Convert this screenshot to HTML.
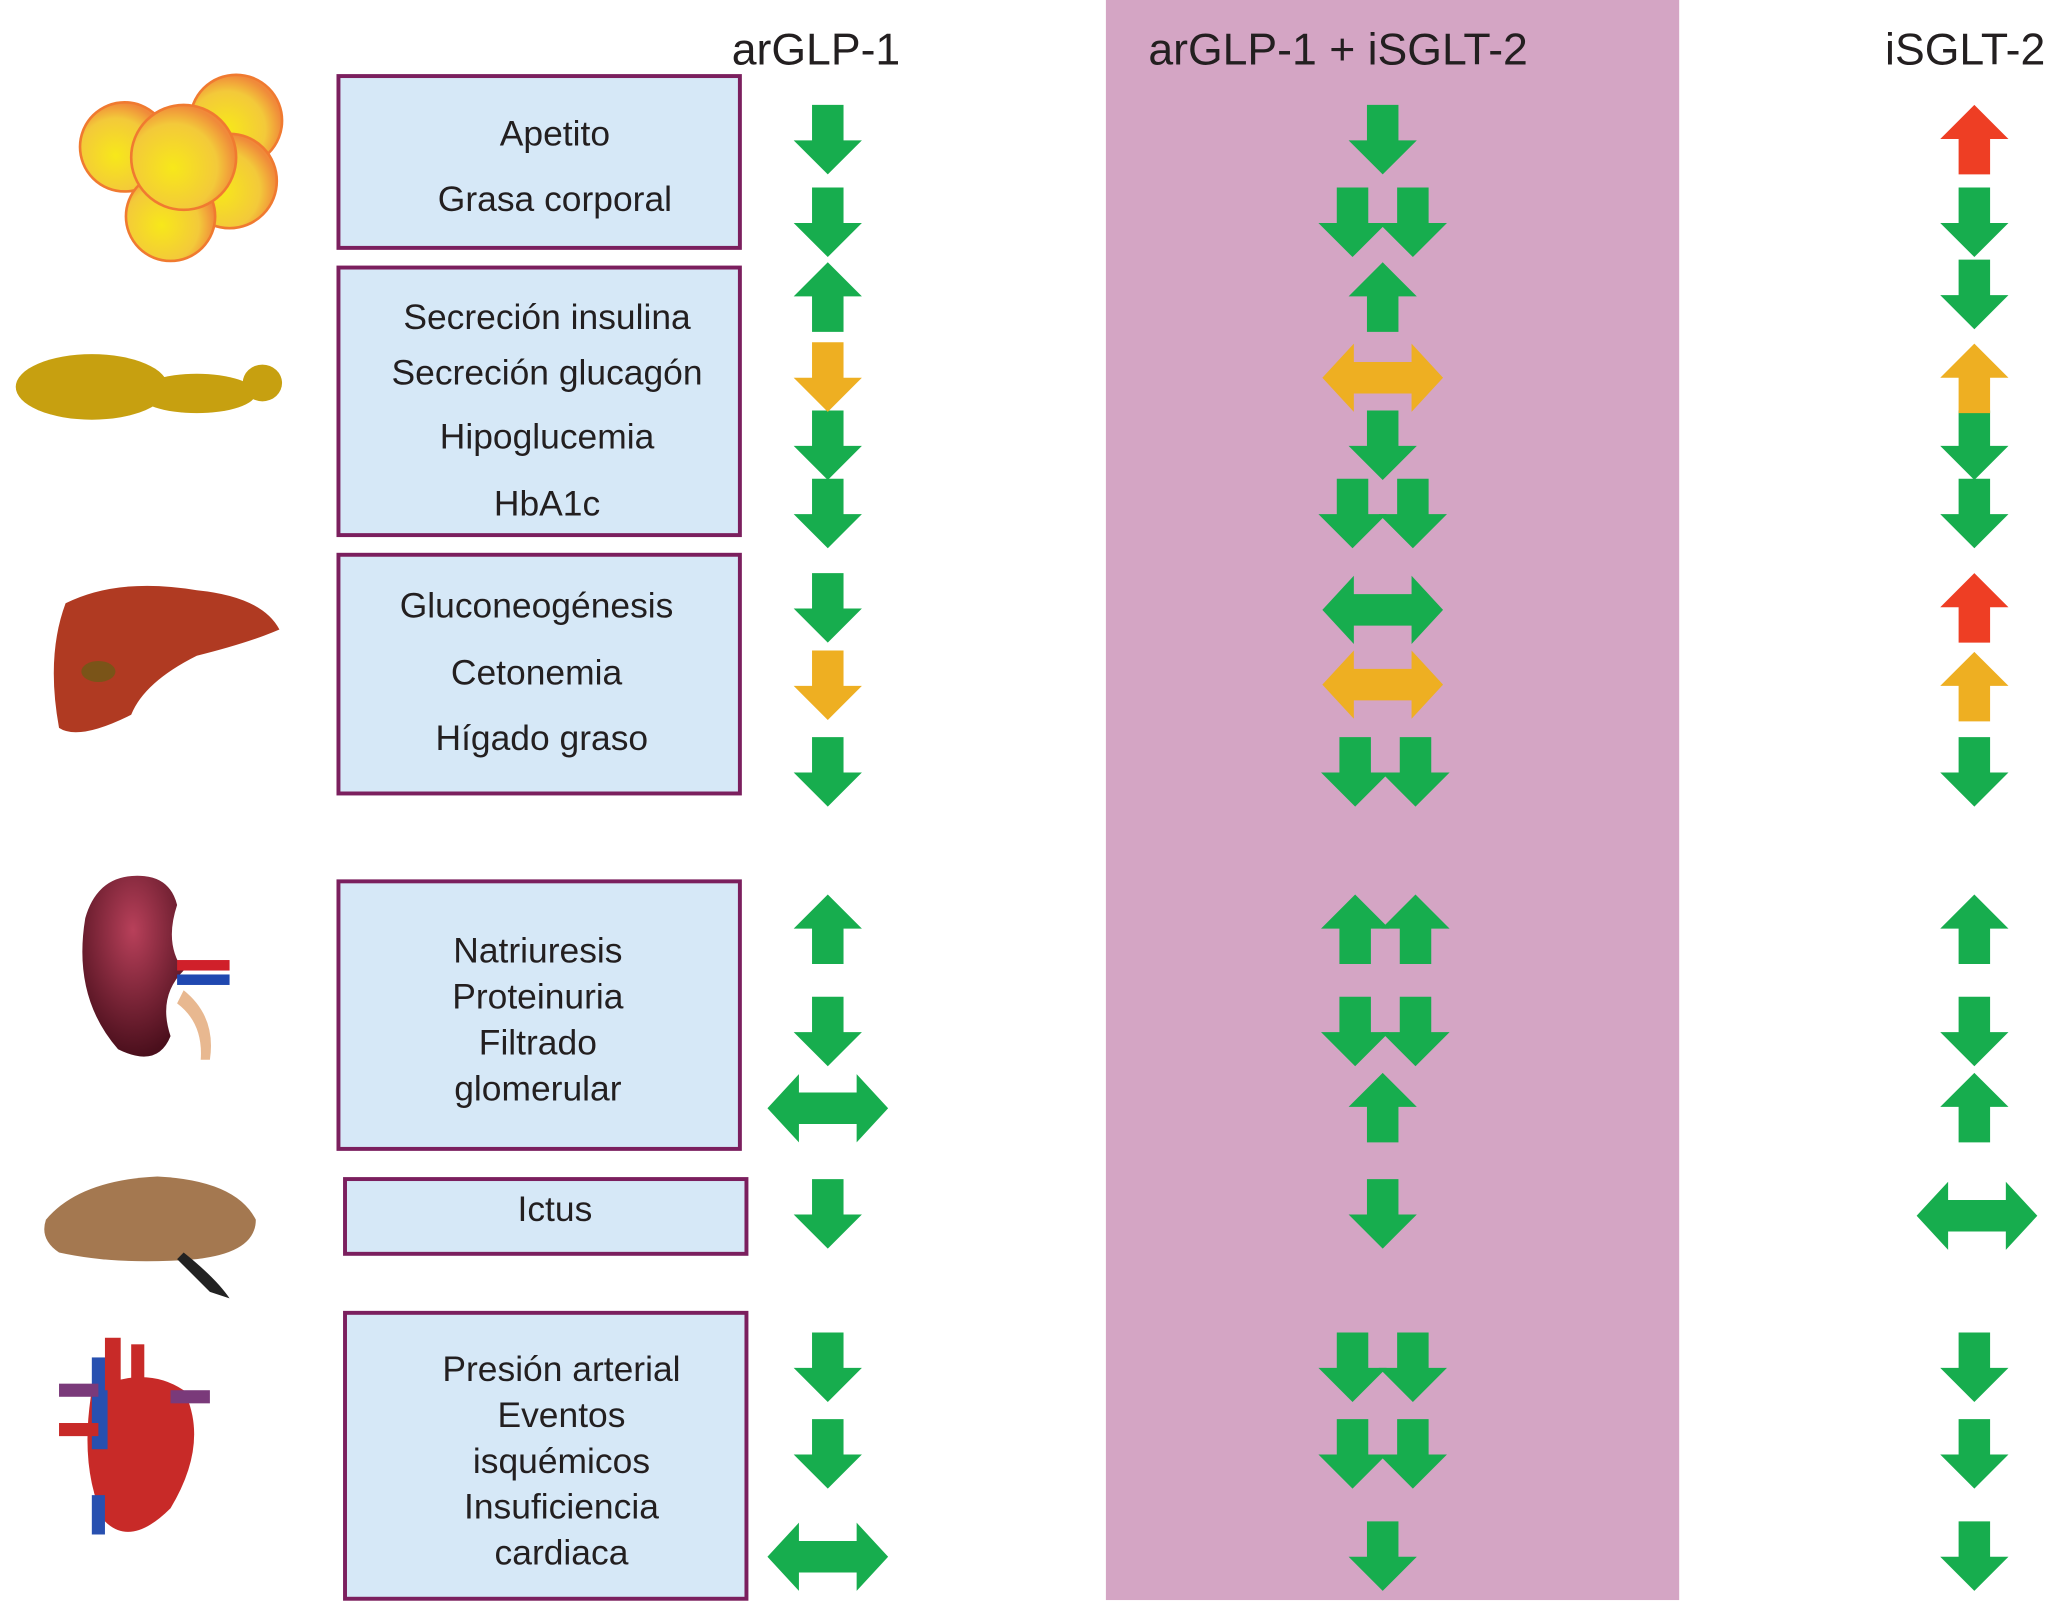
<!DOCTYPE html>
<html><head><meta charset="utf-8">
<style>
html,body{margin:0;padding:0;background:#fff;}
svg{display:block;}
svg text{font-family:"Liberation Sans",Arial,sans-serif;fill:#231f20;}
</style></head>
<body>
<svg width="2057" height="1604" viewBox="0 0 1568 1223" preserveAspectRatio="none" xmlns="http://www.w3.org/2000/svg" font-family="Liberation Sans, Arial, sans-serif">
<defs>
<path id="dn" d="M-12,0 L12,0 L12,27 L26,27 L0,53 L-26,27 L-12,27 Z"/>
<path id="up" d="M0,0 L26,26 L12,26 L12,53 L-12,53 L-12,26 L-26,26 Z"/>
<path id="dh" d="M-46,0 L-22,-26 L-22,-12 L22,-12 L22,-26 L46,0 L22,26 L22,12 L-22,12 L-22,26 Z"/>
<radialGradient id="fat" cx="0.4" cy="0.6" r="0.6"><stop offset="0" stop-color="#f7e81a"/><stop offset="0.7" stop-color="#f3c93a"/><stop offset="1" stop-color="#f08a3a"/></radialGradient>
<radialGradient id="kid" cx="0.5" cy="0.3" r="0.7"><stop offset="0" stop-color="#b8405a"/><stop offset="1" stop-color="#4a0f1c"/></radialGradient>
</defs>
<rect x="843" y="0" width="437" height="1220" fill="#d4a5c4"/>
<g font-family="Liberation Sans, Arial, sans-serif" fill="#231f20">
<text x="622" y="49" font-size="34" text-anchor="middle">arGLP-1</text>
<text x="1020" y="49" font-size="34" text-anchor="middle">arGLP-1 + iSGLT-2</text>
<text x="1498" y="49" font-size="34" text-anchor="middle">iSGLT-2</text>
</g>

<g fill="#d6e8f7" stroke="#7b1f5e" stroke-width="3">
<rect x="258" y="58" width="306" height="131"/>
<rect x="258" y="204" width="306" height="204"/>
<rect x="258" y="423" width="306" height="182"/>
<rect x="258" y="672" width="306" height="204"/>
<rect x="263" y="899" width="306" height="57"/>
<rect x="263" y="1001" width="306" height="218"/>
</g>
<g font-size="27" text-anchor="middle" font-family="Liberation Sans, Arial, sans-serif" fill="#231f20">
<text x="423" y="111">Apetito</text>
<text x="423" y="161">Grasa corporal</text>
<text x="417" y="251">Secreción insulina</text>
<text x="417" y="293">Secreción glucagón</text>
<text x="417" y="342">Hipoglucemia</text>
<text x="417" y="393">HbA1c</text>
<text x="409" y="471">Gluconeogénesis</text>
<text x="409" y="522">Cetonemia</text>
<text x="413" y="572">Hígado graso</text>
<text x="410" y="734">Natriuresis</text>
<text x="410" y="769">Proteinuria</text>
<text x="410" y="804">Filtrado</text>
<text x="410" y="839">glomerular</text>
<text x="423" y="931">Ictus</text>
<text x="428" y="1053">Presión arterial</text>
<text x="428" y="1088">Eventos</text>
<text x="428" y="1123">isquémicos</text>
<text x="428" y="1158">Insuficiencia</text>
<text x="428" y="1193">cardiaca</text>
</g>

<g fill="#17ad4e">
<use href="#dn" x="631" y="80"/>
<use href="#dn" x="631" y="143"/>
<use href="#up" x="631" y="200"/>
<use href="#dn" x="631" y="313"/>
<use href="#dn" x="631" y="365"/>
<use href="#dn" x="631" y="437"/>
<use href="#dn" x="631" y="562"/>
<use href="#up" x="631" y="682"/>
<use href="#dn" x="631" y="760"/>
<use href="#dh" x="631" y="845"/>
<use href="#dn" x="631" y="899"/>
<use href="#dn" x="631" y="1016"/>
<use href="#dn" x="631" y="1082"/>
<use href="#dh" x="631" y="1187"/>
</g>
<g fill="#eeaf22">
<use href="#dn" x="631" y="261"/>
<use href="#dn" x="631" y="496"/>
</g>

<g fill="#17ad4e">
<use href="#dn" x="1054" y="80"/>
<use href="#dn" x="1031" y="143"/><use href="#dn" x="1077" y="143"/>
<use href="#up" x="1054" y="200"/>
<use href="#dn" x="1054" y="313"/>
<use href="#dn" x="1031" y="365"/><use href="#dn" x="1077" y="365"/>
<use href="#dh" x="1054" y="465"/>
<use href="#dn" x="1033" y="562"/><use href="#dn" x="1079" y="562"/>
<use href="#up" x="1033" y="682"/><use href="#up" x="1079" y="682"/>
<use href="#dn" x="1033" y="760"/><use href="#dn" x="1079" y="760"/>
<use href="#up" x="1054" y="818"/>
<use href="#dn" x="1054" y="899"/>
<use href="#dn" x="1031" y="1016"/><use href="#dn" x="1077" y="1016"/>
<use href="#dn" x="1031" y="1082"/><use href="#dn" x="1077" y="1082"/>
<use href="#dn" x="1054" y="1160"/>
</g>
<g fill="#eeaf22">
<use href="#dh" x="1054" y="288"/>
<use href="#dh" x="1054" y="522"/>
</g>

<g fill="#17ad4e">
<use href="#dn" x="1505" y="143"/>
<use href="#dn" x="1505" y="198"/>
<use href="#dn" x="1505" y="313"/>
<use href="#dn" x="1505" y="365"/>
<use href="#dn" x="1505" y="562"/>
<use href="#up" x="1505" y="682"/>
<use href="#dn" x="1505" y="760"/>
<use href="#up" x="1505" y="818"/>
<use href="#dh" x="1507" y="927"/>
<use href="#dn" x="1505" y="1016"/>
<use href="#dn" x="1505" y="1082"/>
<use href="#dn" x="1505" y="1160"/>
</g>
<g fill="#ee3e24">
<use href="#up" x="1505" y="80"/>
<use href="#up" x="1505" y="437"/>
</g>
<g fill="#eeaf22">
<use href="#up" x="1505" y="262"/>
<use href="#up" x="1505" y="497"/>
</g>

<g stroke="#f07a30" stroke-width="2" fill="url(#fat)">
<circle cx="95" cy="112" r="34"/>
<circle cx="180" cy="92" r="35"/>
<circle cx="175" cy="138" r="36"/>
<circle cx="130" cy="165" r="34" />
<circle cx="140" cy="120" r="40"/>
</g>
<g fill="#c7a010">
<ellipse cx="70" cy="295" rx="58" ry="25"/>
<ellipse cx="150" cy="300" rx="45" ry="15"/>
<ellipse cx="200" cy="292" rx="15" ry="14"/>
</g>
<path d="M50,460 Q90,440 150,450 Q200,455 213,480 Q190,490 150,500 Q110,520 100,545 Q60,565 45,555 Q35,500 50,460 Z" fill="#b03a22"/>
<ellipse cx="75" cy="512" rx="13" ry="8" fill="#7a5418"/>
<path d="M110,668 Q75,665 65,700 Q55,760 90,800 Q120,815 130,790 Q120,760 140,740 Q125,720 135,690 Q130,670 110,668 Z" fill="url(#kid)"/>
<rect x="135" y="732" width="40" height="8" fill="#d0202a"/>
<rect x="135" y="743" width="40" height="8" fill="#2048b0"/>
<path d="M140,755 Q165,775 160,808 L153,808 Q155,780 135,765 Z" fill="#e8b890"/>
<path d="M35,930 Q60,900 120,897 Q180,900 195,930 Q195,955 150,960 Q90,965 45,955 Q30,945 35,930 Z" fill="#a47850"/>
<path d="M140,955 Q165,975 175,990 L160,985 Q145,970 135,960 Z" fill="#222"/>
<path d="M70,1060 Q110,1040 140,1060 Q160,1100 130,1150 Q100,1180 80,1160 Q60,1120 70,1060 Z" fill="#c82a28"/>
<rect x="70" y="1035" width="12" height="70" fill="#2850b0"/>
<rect x="80" y="1020" width="12" height="40" fill="#c82a28"/>
<rect x="100" y="1025" width="10" height="40" fill="#c82a28"/>
<rect x="45" y="1085" width="30" height="10" fill="#c82a28"/>
<rect x="45" y="1055" width="30" height="10" fill="#7a3a7a"/>
<rect x="130" y="1060" width="30" height="10" fill="#7a3a7a"/>
<rect x="70" y="1140" width="10" height="30" fill="#2850b0"/>
</svg>
</body></html>
